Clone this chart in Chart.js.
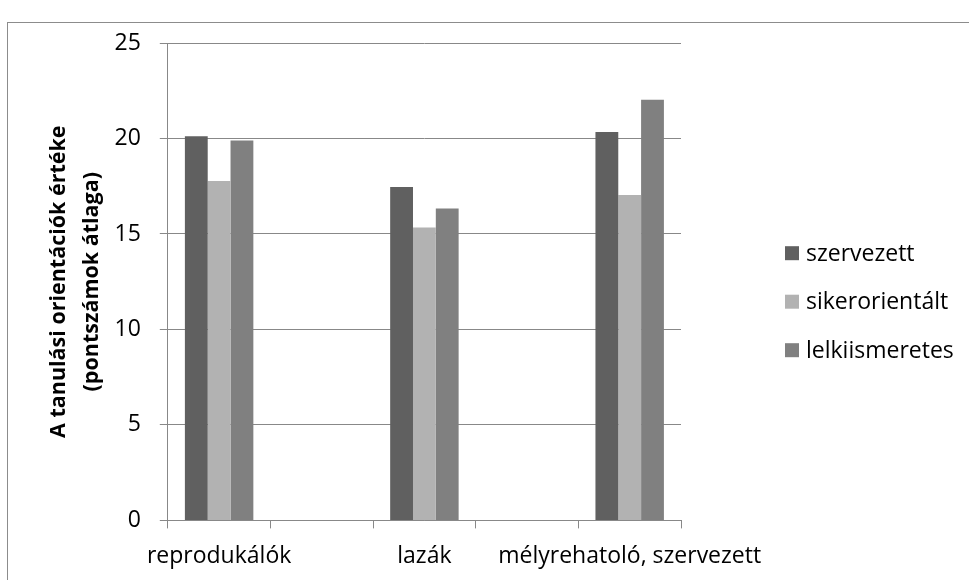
<!DOCTYPE html>
<html>
<head>
<meta charset="utf-8">
<script src="https://cdn.jsdelivr.net/npm/chart.js@4.4.0/dist/chart.umd.min.js"></script>
<style>
    html, body { margin: 0; padding: 0; background: #fff; overflow: hidden; }
    #frame {
        position: absolute; left: 7px; top: 22px;
        width: 1000px; height: 600px;
        border: 1px solid #8c8c8c;
    }
    #wrap { position: absolute; left: 0; top: 0; width: 969px; height: 584px; }
</style>
</head>
<body>
<div id="frame"></div>
<div id="wrap"><canvas id="orientChart"></canvas></div>
<script>
const categories = ['reprodukálók', '', 'lazák', '', 'mélyrehatoló, szervezett'];
const szervezett = [20.12, null, 17.46, null, 20.34];
const sikerorientalt = [17.77, null, 15.34, null, 17.04];
const lelkiismeretes = [19.89, null, 16.33, null, 22.03];
const seriesNames = ['szervezett', 'sikerorientált', 'lelkiismeretes'];
const seriesColors = ['#606060', '#b2b2b2', '#808080'];
const yTicks = [0, 5, 10, 15, 20, 25];

const baseFont = "'Open Sans', Lato, sans-serif";
const gridGray = '#888888';

// legend drawn to the right of the plot, Excel style
const sideLegend = {
    id: 'sideLegend',
    afterDraw(chart) {
        const ctx = chart.ctx;
        const area = chart.chartArea;
        const x = area.right + 104;
        const midY = (area.top + area.bottom) / 2 + 20;
        const step = 48.5;
        ctx.save();
        ctx.font = '23px ' + baseFont;
        ctx.textBaseline = 'middle';
        chart.data.datasets.forEach((ds, i) => {
            const y = midY + (i - 1) * step;
            ctx.fillStyle = ds.backgroundColor;
            ctx.fillRect(x, y - 7, 14, 14);
            ctx.fillStyle = '#000';
            ctx.fillText(ds.label, x + 21, y + 1);
        });
        ctx.restore();
    }
};

const data = {
    labels: categories,
    datasets: [
        { label: seriesNames[0], data: szervezett, backgroundColor: seriesColors[0] },
        { label: seriesNames[1], data: sikerorientalt, backgroundColor: seriesColors[1] },
        { label: seriesNames[2], data: lelkiismeretes, backgroundColor: seriesColors[2] }
    ]
};

const options = {
    responsive: true,
    maintainAspectRatio: false,
    animation: false,
    datasets: {
        bar: { categoryPercentage: 0.667, barPercentage: 1.0, borderWidth: 0 }
    },
    layout: { padding: { left: 28, right: 288, top: 43, bottom: 0 } },
    plugins: {
        legend: { display: false },
        tooltip: { enabled: false }
    },
    scales: {
        x: {
            offset: true,
            grid: {
                offset: true,
                drawOnChartArea: false,
                drawTicks: true,
                tickLength: 8,
                color: gridGray
            },
            border: { color: gridGray },
            ticks: {
                autoSkip: false,
                maxRotation: 0,
                minRotation: 0,
                padding: 14,
                color: '#000',
                font: { family: baseFont, size: 23 }
            }
        },
        y: {
            min: 0,
            max: 25,
            afterBuildTicks(scale) {
                scale.ticks = yTicks.map(v => ({ value: v }));
            },
            grid: { color: gridGray, tickLength: 8 },
            border: { color: gridGray },
            ticks: {
                padding: 19,
                color: '#000',
                font: { family: baseFont, size: 23 }
            },
            title: {
                display: true,
                text: ['A tanulási orientációk értéke', '(pontszámok átlaga)'],
                color: '#000',
                font: { family: baseFont, size: 21.5, weight: 'bold', lineHeight: 1.5 },
                padding: { top: 15, bottom: -12 }
            }
        }
    }
};

window.onload = function() {
    const ctx = document.getElementById('orientChart').getContext('2d');
    new Chart(ctx, { type: 'bar', data: data, options: options, plugins: [sideLegend] });
};
</script>
</body>
</html>
